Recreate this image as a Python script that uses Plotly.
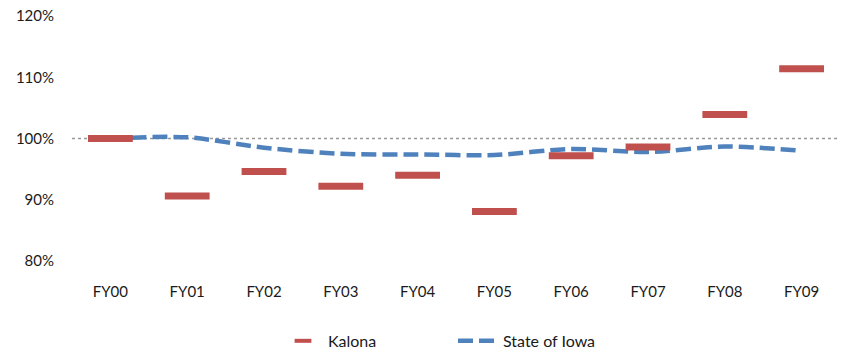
import plotly.graph_objects as go

years = ["FY00", "FY01", "FY02", "FY03", "FY04", "FY05", "FY06", "FY07", "FY08", "FY09"]
kalona = [100.0, 90.6, 94.6, 92.2, 94.0, 88.1, 97.2, 98.6, 103.9, 111.4]
iowa = [100.0, 100.2, 98.5, 97.5, 97.4, 97.3, 98.3, 97.8, 98.7, 98.0]
y_ticks = [80, 90, 100, 110, 120]
y_tick_labels = ["80%", "90%", "100%", "110%", "120%"]

font_family = "Lato, 'Open Sans', sans-serif"
red = "#C0504D"
blue = "#4F81BD"

fig = go.Figure()

# legend-only entry with a small dash symbol
fig.add_trace(go.Scatter(
    x=[years[0]], y=[None], name="Kalona", mode="markers",
    marker=dict(symbol="line-ew", size=12, line=dict(color=red, width=4)),
    showlegend=True,
))

fig.add_trace(go.Scatter(
    x=years, y=iowa, name="State of Iowa", mode="lines",
    line=dict(color=blue, width=4.5, dash="15px,6px", shape="spline", smoothing=0.8),
))

fig.add_trace(go.Scatter(
    x=years, y=kalona, name="Kalona", mode="markers", showlegend=False,
    marker=dict(symbol="line-ew", size=32, line=dict(color=red, width=7)),
))

# 100% reference line
fig.add_shape(type="line", xref="paper", x0=0, x1=1, yref="y", y0=100, y1=100,
              line=dict(color="#999999", width=1.5, dash="dot"), layer="below")

fig.update_layout(
    width=842, height=354,
    margin=dict(l=72, r=2, t=16, b=93, autoexpand=False),
    paper_bgcolor="white", plot_bgcolor="white",
    font=dict(family=font_family, size=15, color="#1a1a1a"),
    showlegend=True,
    legend=dict(orientation="h", x=(278 - 72) / 768, xanchor="left",
                yref="container", y=0.085, yanchor="top",
                font=dict(size=16), itemwidth=40, entrywidth=120, traceorder="normal"),
    xaxis=dict(type="category", categoryorder="array", categoryarray=years,
               range=[-0.5, 9.5], showgrid=False, zeroline=False, showline=False,
               ticks="", tickfont=dict(size=15), ticklabelstandoff=20, automargin=False),
    yaxis=dict(range=[80, 120], tickmode="array", tickvals=y_ticks, ticktext=y_tick_labels,
               showgrid=False, zeroline=False, showline=False, ticks="",
               tickfont=dict(size=15), ticklabelstandoff=17, automargin=False),
)

fig.write_html("out.html")
